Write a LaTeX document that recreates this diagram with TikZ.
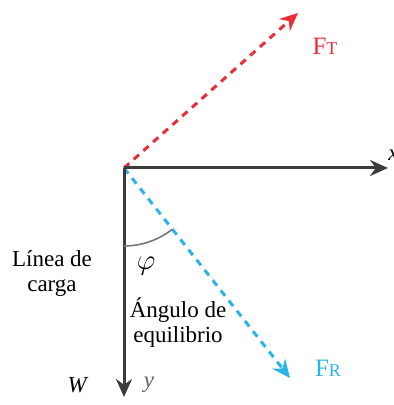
\documentclass[tikz,border=0pt]{standalone}
\usepackage{fontspec}
\setmainfont{Liberation Serif}
\usetikzlibrary{arrows.meta}
\definecolor{ejegris}{RGB}{60,60,60}
\definecolor{rojoft}{RGB}{235,45,55}
\definecolor{azulfr}{RGB}{40,180,235}
\tikzset{
  eje/.style={ejegris, line width=1.5pt, -{Stealth[length=9pt,width=8pt]}},
  fuerza/.style={line width=1.5pt, dash pattern=on 3.5pt off 3pt, -{Stealth[length=9pt,width=8pt]}},
  rotulo/.style={font=\fontsize{11.5}{12.5}\selectfont, align=center, inner sep=0pt}
}
\begin{document}
\begin{tikzpicture}[x=0.5pt,y=0.5pt]
    \useasboundingbox (0,0) rectangle (393,405);
    % Origen y extremos de los vectores
    \coordinate (O) at (124,237);
    \coordinate (Xf) at (388,237);
    \coordinate (Yf) at (124,8);
    \coordinate (FTf) at (298,392);
    \coordinate (FRf) at (290,27);
    % Fuerzas (discontinuas)
    \draw[fuerza, rojoft] (O) -- (FTf);
    \draw[fuerza, azulfr] (O) -- (FRf);
    % Ejes x e y
    \draw[eje] (O) -- (Xf);
    \draw[eje] (O) -- (Yf);
    % Angulo de equilibrio entre la vertical y F_R
    \draw[ejegris!70, line width=0.8pt] (O) ++(270:78) arc (270:308.3:78);
    % Rotulos
    \node[rotulo, anchor=west] (lx) at (388,250) {\textit{x}};
    \node[rotulo, ejegris!80] (ly) at (149,20) {\textit{y}};
    \node[rotulo] (lW) at (78,20) {\textit{W}};
    \node[rotulo, rojoft, font=\fontsize{12.5}{13}\selectfont] (lFT) at (325,359) {F{\fontsize{9}{9}\selectfont T}};
    \node[rotulo, azulfr, font=\fontsize{12.5}{13}\selectfont] (lFR) at (328,37) {F{\fontsize{9}{9}\selectfont R}};
    \node[rotulo, font=\fontsize{14}{14}\selectfont] (lphi) at (146,139) {$\varphi$};
    \node[rotulo] (lcarga) at (52,132) {Línea de\\carga};
    \node[rotulo] (lequil) at (178,82) {Ángulo de\\equilibrio};
\end{tikzpicture}
\end{document}
